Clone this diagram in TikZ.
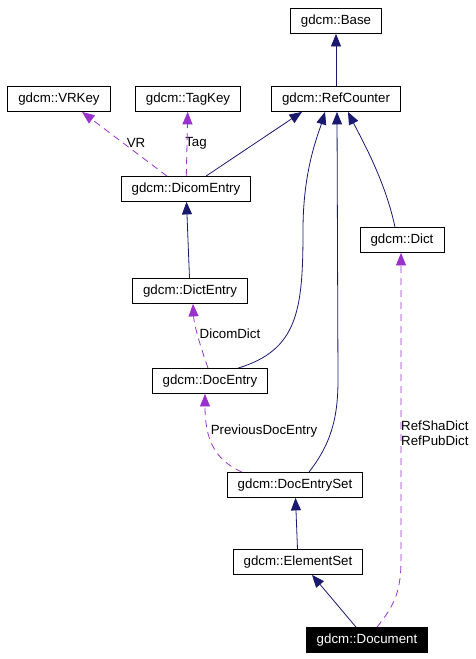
\documentclass[tikz,border=0pt]{standalone}
\usepackage{fontspec}
\setmainfont{Liberation Sans}
\usepackage{xcolor}
\usepackage{tikz}
\definecolor{edgenavy}{RGB}{25,25,112}
\definecolor{edgepurple}{RGB}{153,50,204}
\usetikzlibrary{arrows.meta}

\begin{document}
\begin{tikzpicture}[
    x=1pt, y=-1pt,
    font=\fontsize{13.3}{15}\selectfont,
    classbox/.style={rectangle, draw, fill=white, minimum height=25pt, inner xsep=10.5pt, inner ysep=0pt, line width=0.8pt},
    current/.style={classbox, fill=black, text=white},
    inherit/.style={-{Triangle[length=12.5pt,width=10pt]}, edgenavy, line width=0.8pt},
    usage/.style={-{Triangle[length=12.5pt,width=10pt]}, edgepurple, line width=0.8pt, dash pattern=on 7pt off 5pt},
    lbl/.style={inner sep=0pt, align=left}
]
\useasboundingbox (0,0) rectangle (476,659);

\node[classbox] (base) at (336,21) {gdcm::Base};
\node[classbox] (vrkey) at (59,99) {gdcm::VRKey};
\node[classbox] (tagkey) at (188,99) {gdcm::TagKey};
\node[classbox] (refcounter) at (336,99) {gdcm::RefCounter};
\node[classbox] (dicomentry) at (186,189) {gdcm::DicomEntry};
\node[classbox] (dict) at (402,240) {gdcm::Dict};
\node[classbox] (dictentry) at (190,291) {gdcm::DictEntry};
\node[classbox] (docentry) at (210,381) {gdcm::DocEntry};
\node[classbox] (docentryset) at (295,485) {gdcm::DocEntrySet};
\node[classbox] (elementset) at (298,562) {gdcm::ElementSet};
\node[current] (document) at (367,640) {gdcm::Document};

\node[lbl] (vrlabel) at (136,143) {VR};
\node[lbl] (taglabel) at (196,143) {Tag};
\node[lbl] (dicomdictlabel) at (230,334) {DicomDict};
\node[lbl] (prevlabel) at (264,431) {PreviousDocEntry};
\node[lbl, anchor=west] (dictlabel) at (401,433) {RefShaDict\\RefPubDict};

\draw[inherit] (refcounter) -- (base);
\draw[inherit] ([xshift=20pt]dicomentry.north) -- ([xshift=-34pt]refcounter.south);
\draw[usage] ([xshift=-19pt]dicomentry.north) -- ([xshift=23pt]vrkey.south);
\draw[usage] (dicomentry) -- (tagkey);
\draw[inherit] (dictentry) -- (dicomentry);
\draw[usage] ([xshift=-2pt]docentry.north) .. controls (200,345) and (194,325) .. ([xshift=3pt]dictentry.south);
\draw[inherit] ([xshift=28pt]docentry.north) .. controls (298,350) and (303,310) .. (303,230) .. controls (303,170) and (318,135) .. ([xshift=-11pt]refcounter.south);
\draw[usage] ([xshift=-53pt]docentryset.north) .. controls (215,460) and (205,440) .. ([xshift=-5pt]docentry.south);
\draw[inherit] ([xshift=14pt]docentryset.north) .. controls (330,445) and (338,420) .. (338,380) -- ([xshift=1pt]refcounter.south);
\draw[inherit] ([xshift=-7pt]dict.north) .. controls (385,180) and (362,140) .. ([xshift=12pt]refcounter.south);
\draw[inherit] (elementset) -- (docentryset);
\draw[inherit] ([xshift=-11pt]document.north) -- ([xshift=14pt]elementset.south);
\draw[usage] ([xshift=10pt]document.north) .. controls (395,605) and (401,590) .. (401,560) -- ([xshift=-1pt]dict.south);

\end{tikzpicture}
\end{document}
